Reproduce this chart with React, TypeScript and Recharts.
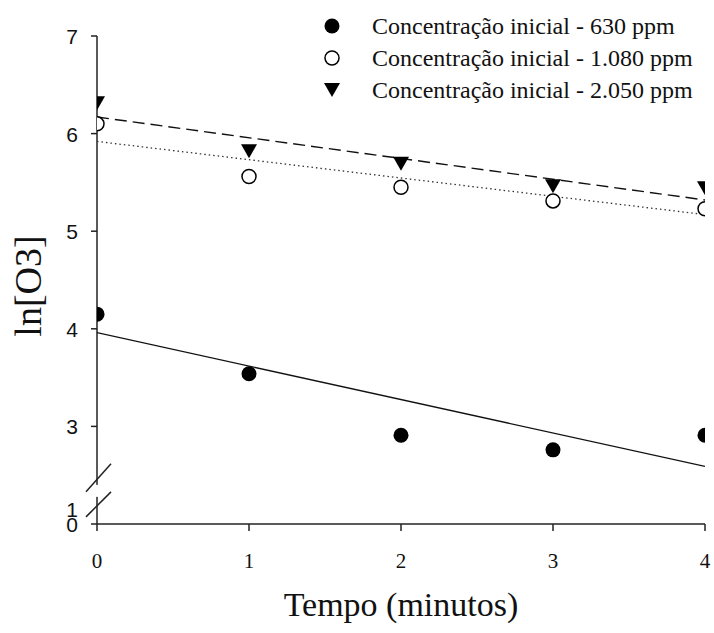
import React from 'react';
import { ScatterChart, Scatter, XAxis, YAxis, Legend, Label } from 'recharts';

// ---- data ----
const timeMinutes = [0, 1, 2, 3, 4];
const series630 = [4.15, 3.54, 2.91, 2.76, 2.91];
const series1080 = [6.1, 5.56, 5.45, 5.31, 5.23];
const series2050 = [6.31, 5.82, 5.69, 5.46, 5.44];
const fitX = [0, 4];
const fit630 = [3.96, 2.59];
const fit1080 = [5.92, 5.17];
const fit2050 = [6.17, 5.32];
const xTicks = [0, 1, 2, 3, 4];
const yTickLabels = [0, 1, 3, 4, 5, 6, 7];
const legendLabels = [
  'Concentração inicial - 630 ppm',
  'Concentração inicial - 1.080 ppm',
  'Concentração inicial - 2.050 ppm',
];

// broken y-axis: values above the break keep their scale; the 0..1 segment is compressed below it
const BREAK_AT = 2.4;
const BREAK_LOW = 2;
const BREAK_FACTOR = 0.155;
const toAxis = (v: number) => (v >= BREAK_AT ? v : BREAK_LOW + v * BREAK_FACTOR);

const build = (xs: number[], ys: number[]) => xs.map((x, i) => ({ x, y: toAxis(ys[i]) }));
const d630 = build(timeMinutes, series630);
const d1080 = build(timeMinutes, series1080);
const d2050 = build(timeMinutes, series2050);
const f630 = build(fitX, fit630);
const f1080 = build(fitX, fit1080);
const f2050 = build(fitX, fit2050);
const yTicks = yTickLabels.map(toAxis);

const INK = '#111';
const AXIS = '#222';
const SERIF = "'Liberation Serif', 'Times New Roman', serif";

const FilledCircle = (p: any) => <circle cx={p.cx} cy={p.cy} r={7.5} fill="#000" />;
const OpenCircle = (p: any) => (
  <circle cx={p.cx} cy={p.cy} r={7} fill="#fff" stroke="#000" strokeWidth={1.5} />
);
const Triangle = (p: any) => (
  <polygon
    points={`${p.cx - 8},${p.cy - 7} ${p.cx + 8},${p.cy - 7} ${p.cx},${p.cy + 7}`}
    fill="#000"
  />
);
const NoShape = () => <g />;

const YTick = (props: any) => {
  const { x, y, index } = props;
  const label = yTickLabels[index];
  return (
    <g>
      {label === 1 ? (
        <g>
          <rect x={x - 3} y={y - 24} width={6} height={12} fill="#fff" />
          <line x1={x - 11} y1={y + 8} x2={x + 14} y2={y - 17} stroke={AXIS} strokeWidth={1.5} />
          <line x1={x - 11} y1={y - 17} x2={x + 14} y2={y - 45} stroke={AXIS} strokeWidth={1.5} />
        </g>
      ) : (
        <line x1={x - 6} y1={y} x2={x} y2={y} stroke={AXIS} strokeWidth={1.5} />
      )}
      <text
        x={x - 19}
        y={y + 8}
        textAnchor="end"
        fontFamily="'Liberation Sans', Arial, sans-serif"
        fontSize={21}
        fill={INK}
      >
        {label}
      </text>
    </g>
  );
};

const XTick = (props: any) => {
  const { x, y, payload } = props;
  return (
    <text x={x} y={y + 37} textAnchor="middle" fontFamily={SERIF} fontSize={21} fill={INK}>
      {payload.value}
    </text>
  );
};

const LegendMarker = ({ i }: { i: number }) => (
  <svg width={20} height={20} style={{ display: 'block' }}>
    {i === 0 && <circle cx={10} cy={10} r={7.5} fill="#000" />}
    {i === 1 && <circle cx={10} cy={10} r={7} fill="#fff" stroke="#000" strokeWidth={1.5} />}
    {i === 2 && <polygon points="2,3 18,3 10,17" fill="#000" />}
  </svg>
);

const LegendBox = () => (
  <div>
    {legendLabels.map((t, i) => (
      <div key={t} style={{ display: 'flex', alignItems: 'center', height: 32 }}>
        <LegendMarker i={i} />
        <span
          style={{
            marginLeft: 30,
            fontFamily: SERIF,
            fontSize: 24,
            color: INK,
            whiteSpace: 'nowrap',
            lineHeight: '32px',
          }}
        >
          {t}
        </span>
      </div>
    ))}
  </div>
);

export default function App() {
  return (
    <div style={{ position: 'absolute', left: 0, top: 0, background: '#fff' }}>
      <ScatterChart width={714} height={633} margin={{ top: 36, right: 9, bottom: 9, left: 0 }}>
        <XAxis
          type="number"
          dataKey="x"
          domain={[0, 4]}
          ticks={xTicks}
          allowDataOverflow
          height={100}
          tickSize={7}
          tickMargin={0}
          tickLine={{ stroke: AXIS, strokeWidth: 1.5 }}
          axisLine={{ stroke: AXIS, strokeWidth: 1.5 }}
          tick={<XTick />}
        >
          <Label
            content={({ viewBox }: any) => (
              <text
                x={viewBox.x + viewBox.width / 2}
                y={viewBox.y + 92}
                textAnchor="middle"
                fontFamily={SERIF}
                fontSize={34}
                fill={INK}
              >
                Tempo (minutos)
              </text>
            )}
          />
        </XAxis>
        <YAxis
          type="number"
          dataKey="y"
          domain={[BREAK_LOW, 7]}
          ticks={yTicks}
          allowDataOverflow
          width={97}
          tickSize={0}
          tickMargin={0}
          tickLine={false}
          axisLine={{ stroke: AXIS, strokeWidth: 1.5 }}
          tick={<YTick />}
          interval={0}
        >
          <Label
            content={({ viewBox }: any) => {
              const cx = viewBox.x + 28;
              const cy = viewBox.y + viewBox.height / 2 + 6;
              return (
                <text
                  x={cx}
                  y={cy}
                  transform={`rotate(-90 ${cx} ${cy})`}
                  textAnchor="middle"
                  dominantBaseline="central"
                  fontFamily={SERIF}
                  fontSize={38}
                  fill={INK}
                >
                  ln[O3]
                </text>
              );
            }}
          />
        </YAxis>
        <Legend
          layout="vertical"
          align="center"
          verticalAlign="middle"
          content={() => <LegendBox />}
          wrapperStyle={{ position: 'absolute', top: 10, left: 322, width: 390 }}
        />
        <Scatter data={f630} line={{ stroke: '#111', strokeWidth: 1.3 }} shape={NoShape} isAnimationActive={false} legendType="none" />
        <Scatter data={f1080} line={{ stroke: '#333', strokeWidth: 1.3, strokeDasharray: '1.5 3' }} shape={NoShape} isAnimationActive={false} legendType="none" />
        <Scatter data={f2050} line={{ stroke: '#111', strokeWidth: 1.4, strokeDasharray: '12 6' }} shape={NoShape} isAnimationActive={false} legendType="none" />
        <Scatter data={d630} shape={FilledCircle} isAnimationActive={false} />
        <Scatter data={d1080} shape={OpenCircle} isAnimationActive={false} />
        <Scatter data={d2050} shape={Triangle} isAnimationActive={false} />
      </ScatterChart>
    </div>
  );
}
